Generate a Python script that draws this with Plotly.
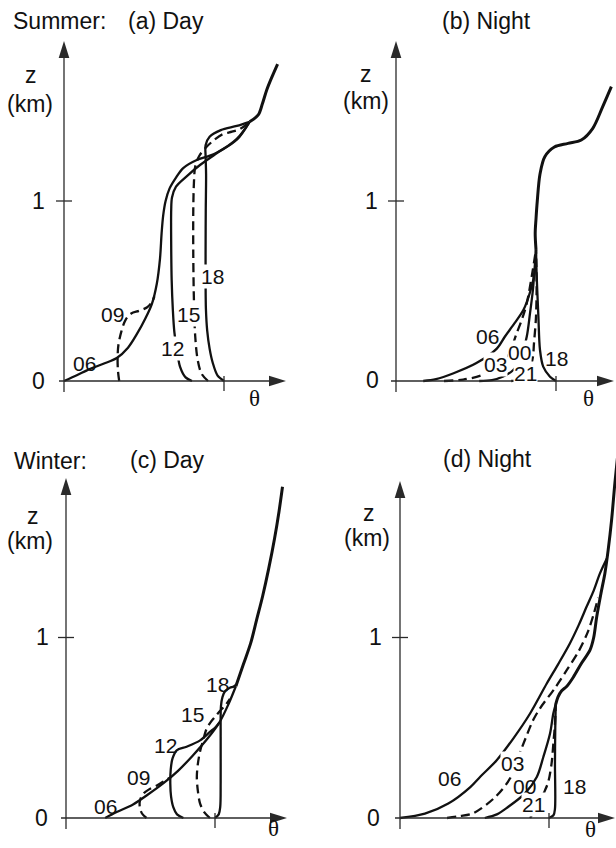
import plotly.graph_objects as go

W, H = 616, 848

# ---------------- data (theta in units of the axis tick, z in km) ----------------
# (a) Summer, day
A_TOP_TH = [1.16, 1.214, 1.24, 1.267, 1.30, 1.335]
A_TOP_Z = [1.44, 1.478, 1.54, 1.617, 1.69, 1.761]
A06_TH = [0.0, 0.08, 0.16, 0.25, 0.33, 0.40, 0.455, 0.51, 0.55, 0.58, 0.60, 0.61, 0.62, 0.635, 0.66, 0.70, 0.745, 0.83, 0.90, 0.954, 1.08, 1.16]
A06_Z = [0.0, 0.032, 0.066, 0.097, 0.128, 0.185, 0.26, 0.35, 0.43, 0.54, 0.68, 0.82, 0.92, 1.0, 1.07, 1.13, 1.183, 1.228, 1.248, 1.268, 1.345, 1.44]
A09_TH = [0.345, 0.337, 0.335, 0.34, 0.36, 0.385, 0.42, 0.47, 0.52, 0.55, 0.565]
A09_Z = [0.0, 0.06, 0.13, 0.2, 0.28, 0.34, 0.375, 0.39, 0.41, 0.44, 0.47]
A12_TH = [0.80, 0.76, 0.725, 0.71, 0.69, 0.68, 0.673, 0.67, 0.67, 0.675, 0.70, 0.77, 0.85, 0.954, 1.08, 1.16]
A12_Z = [0.0, 0.02, 0.08, 0.15, 0.27, 0.40, 0.56, 0.75, 0.95, 1.02, 1.08, 1.14, 1.20, 1.265, 1.34, 1.44]
A15_TH = [0.90, 0.86, 0.835, 0.82, 0.812, 0.808, 0.808, 0.812, 0.82, 0.845, 0.89, 0.94, 0.99, 1.05, 1.10, 1.16]
A15_Z = [0.0, 0.04, 0.12, 0.25, 0.45, 0.70, 0.95, 1.10, 1.19, 1.25, 1.30, 1.34, 1.37, 1.385, 1.40, 1.44]
A18_TH = [1.0, 0.96, 0.93, 0.91, 0.895, 0.887, 0.885, 0.885, 0.886, 0.888, 0.885, 0.885, 0.91, 0.98, 1.08, 1.16]
A18_Z = [0.0, 0.03, 0.10, 0.18, 0.28, 0.40, 0.55, 0.75, 0.95, 1.15, 1.25, 1.31, 1.357, 1.394, 1.417, 1.44]

# (b) Summer, night
B_TOP_TH = [0.875, 0.87, 0.875, 0.883, 0.90, 0.93, 0.99, 1.075, 1.158, 1.23, 1.29, 1.346]
B_TOP_Z = [0.73, 0.82, 0.90, 1.00, 1.15, 1.246, 1.30, 1.32, 1.339, 1.404, 1.52, 1.635]
B06_TH = [0.17, 0.25, 0.36, 0.50, 0.63, 0.68, 0.74, 0.796, 0.84, 0.869, 0.875]
B06_Z = [0.0, 0.01, 0.043, 0.098, 0.18, 0.246, 0.32, 0.394, 0.50, 0.617, 0.73]
B03_TH = [0.30, 0.42, 0.53, 0.62, 0.70, 0.754, 0.79, 0.817, 0.848, 0.875]
B03_Z = [0.0, 0.008, 0.03, 0.07, 0.14, 0.265, 0.35, 0.43, 0.58, 0.73]
B00_TH = [0.52, 0.60, 0.67, 0.733, 0.78, 0.817, 0.8375, 0.855, 0.8625, 0.875]
B00_Z = [0.0, 0.005, 0.025, 0.061, 0.13, 0.246, 0.376, 0.50, 0.58, 0.73]
B21_TH = [0.72, 0.78, 0.83, 0.855, 0.8625, 0.875, 0.879, 0.877, 0.875]
B21_Z = [0.0, 0.01, 0.05, 0.13, 0.21, 0.357, 0.54, 0.65, 0.73]
B18_TH = [1.0, 0.9625, 0.92, 0.90, 0.89, 0.883, 0.878, 0.875]
B18_Z = [0.0, 0.024, 0.08, 0.172, 0.357, 0.50, 0.617, 0.73]

# (c) Winter, day
C_TOP_TH = [1.14, 1.19, 1.24, 1.28, 1.32, 1.36, 1.40, 1.43, 1.453]
C_TOP_Z = [0.73, 0.85, 0.97, 1.10, 1.23, 1.38, 1.55, 1.70, 1.835]
C06_TH = [0.263, 0.34, 0.45, 0.55, 0.65, 0.75, 0.85, 0.95, 1.03, 1.09, 1.14]
C06_Z = [0.0, 0.033, 0.075, 0.13, 0.19, 0.26, 0.345, 0.44, 0.53, 0.63, 0.73]
C09_TH = [0.54, 0.51, 0.495, 0.497, 0.52, 0.56, 0.61, 0.66, 0.70]
C09_Z = [0.0, 0.025, 0.06, 0.10, 0.135, 0.16, 0.18, 0.205, 0.225]
C12_TH = [0.788, 0.745, 0.72, 0.705, 0.70, 0.703, 0.715, 0.743, 0.81, 0.90, 0.966, 1.00, 1.03]
C12_Z = [0.0, 0.02, 0.06, 0.12, 0.19, 0.27, 0.33, 0.375, 0.395, 0.43, 0.477, 0.50, 0.53]
C15_TH = [0.966, 0.93, 0.90, 0.885, 0.878, 0.885, 0.90, 0.92, 0.944, 0.97, 1.00, 1.03, 1.07, 1.10]
C15_Z = [0.0, 0.03, 0.08, 0.15, 0.227, 0.30, 0.37, 0.43, 0.495, 0.53, 0.56, 0.59, 0.625, 0.66]
C18_TH = [1.0, 1.025, 1.035, 1.038, 1.038, 1.04, 1.05, 1.07, 1.10, 1.125, 1.145]
C18_Z = [0.0, 0.02, 0.06, 0.20, 0.45, 0.62, 0.67, 0.705, 0.722, 0.728, 0.74]

# (d) Winter, night
D_TOP_TH = [1.045, 1.06, 1.085, 1.12, 1.163, 1.22, 1.275, 1.30, 1.32, 1.35, 1.375, 1.397, 1.42, 1.442, 1.46]
D_TOP_Z = [0.63, 0.67, 0.705, 0.73, 0.78, 0.86, 0.93, 1.00, 1.114, 1.25, 1.355, 1.484, 1.65, 1.854, 2.0]
D06_TH = [0.0, 0.167, 0.324, 0.47, 0.54, 0.649, 0.76, 0.873, 0.985, 1.06, 1.14, 1.20, 1.252, 1.30, 1.342, 1.39]
D06_Z = [0.0, 0.024, 0.08, 0.17, 0.23, 0.32, 0.44, 0.579, 0.745, 0.85, 0.967, 1.07, 1.17, 1.26, 1.355, 1.44]
D03_TH = [0.316, 0.40, 0.49, 0.638, 0.739, 0.819, 0.893, 0.94, 1.04, 1.12, 1.20, 1.26, 1.30, 1.33]
D03_Z = [0.0, 0.01, 0.026, 0.115, 0.22, 0.392, 0.541, 0.608, 0.72, 0.82, 0.925, 1.03, 1.13, 1.22]
D00_TH = [0.569, 0.65, 0.725, 0.837, 0.918, 0.962, 1.007, 1.029, 1.045]
D00_Z = [0.0, 0.02, 0.061, 0.135, 0.227, 0.338, 0.468, 0.579, 0.63]
D21_TH = [0.873, 0.918, 0.973, 0.995, 1.017, 1.03, 1.04, 1.045]
D21_Z = [0.0, 0.061, 0.153, 0.20, 0.30, 0.42, 0.52, 0.63]
D18_TH = [1.0, 1.03, 1.04, 1.04, 1.042, 1.045]
D18_Z = [0.0, 0.015, 0.05, 0.30, 0.50, 0.63]

# curve labels: (text, theta, z, blank-out background)
A_LABELS = [("06", 0.131, 0.10, False), ("09", 0.30, 0.372, False), ("12", 0.681, 0.183, True),
            ("15", 0.781, 0.372, True), ("18", 0.925, 0.578, True)]
B_LABELS = [("06", 0.571, 0.25, False), ("03", 0.619, 0.089, True), ("21", 0.809, 0.044, True),
            ("00", 0.769, 0.161, True), ("18", 1.003, 0.125, False)]
C_LABELS = [("06", 0.262, 0.066, False), ("09", 0.485, 0.224, False), ("12", 0.671, 0.404, False),
            ("15", 0.849, 0.576, False), ("18", 1.017, 0.737, False)]
D_LABELS = [("06", 0.329, 0.22, False), ("03", 0.758, 0.30, True), ("21", 0.895, 0.076, True),
            ("00", 0.836, 0.176, False), ("18", 1.171, 0.172, False)]

# ---------------- layout geometry (pixels) ----------------
SANS = "Liberation Sans, Arial, Helvetica, sans-serif"
SERIF = "Liberation Serif, Times New Roman, serif"
INK = "#111111"
AX = "#2a2a2a"

panels = [
    dict(s="", box=(0, 308, 0, 424), ox=64, oy=381, sx=160, sy=180, ytip=41, xtip=286,
         curves=[(A06_TH, A06_Z, None), (A09_TH, A09_Z, "dash"), (A12_TH, A12_Z, None),
                 (A15_TH, A15_Z, "dash"), (A18_TH, A18_Z, None)],
         top=(A_TOP_TH, A_TOP_Z), labels=A_LABELS,
         texts=[("z", 31, 75.5), ("(km)", 30, 104), ("1", 39, 201), ("0", 39, 381)],
         theta=(254, 399)),
    dict(s="2", box=(308, 616, 0, 424), ox=396, oy=381, sx=160, sy=180, ytip=41, xtip=614,
         curves=[(B06_TH, B06_Z, None), (B03_TH, B03_Z, "dash"), (B00_TH, B00_Z, None),
                 (B21_TH, B21_Z, "dash"), (B18_TH, B18_Z, None)],
         top=(B_TOP_TH, B_TOP_Z), labels=B_LABELS,
         texts=[("z", 366, 73.5), ("(km)", 365.5, 100.5), ("1", 371, 201), ("0", 372, 380)],
         theta=(588, 399)),
    dict(s="3", box=(0, 308, 424, 848), ox=66, oy=818, sx=149, sy=180.5, ytip=478, xtip=287,
         curves=[(C06_TH, C06_Z, None), (C09_TH, C09_Z, "dash"), (C12_TH, C12_Z, None),
                 (C15_TH, C15_Z, "dash"), (C18_TH, C18_Z, None)],
         top=(C_TOP_TH, C_TOP_Z), labels=C_LABELS,
         texts=[("z", 32.5, 516), ("(km)", 30, 541), ("1", 42, 637), ("0", 41, 818)],
         theta=(273, 828)),
    dict(s="4", box=(308, 616, 424, 848), ox=400, oy=818, sx=149, sy=180.5, ytip=481, xtip=615,
         curves=[(D06_TH, D06_Z, None), (D03_TH, D03_Z, "dash"), (D00_TH, D00_Z, None),
                 (D21_TH, D21_Z, "dash"), (D18_TH, D18_Z, None)],
         top=(D_TOP_TH, D_TOP_Z), labels=D_LABELS,
         texts=[("z", 369, 513), ("(km)", 367, 538), ("1", 375, 637), ("0", 374, 818)],
         theta=(590, 829)),
]

titles = [("Summer:", 11, 21, "left"), ("(a) Day", 165.5, 21, "center"), ("(b) Night", 486, 21, "center"),
          ("Winter:", 12, 461, "left"), ("(c) Day", 167.5, 460, "center"), ("(d) Night", 487, 459, "center")]

fig = go.Figure()
shapes = []
annotations = []


def px(x, y):
    return x / W, 1 - y / H


for p in panels:
    s = p["s"]
    x0, x1, y0, y1 = p["box"]
    ox, oy, sx, sy = p["ox"], p["oy"], p["sx"], p["sy"]
    xr = [(x0 - ox) / sx, (x1 - ox) / sx]
    yr = [(oy - y1) / sy, (oy - y0) / sy]
    fig.update_layout({
        "xaxis" + s: dict(domain=[x0 / W, x1 / W], range=xr, visible=False, fixedrange=True, anchor="y" + s),
        "yaxis" + s: dict(domain=[1 - y1 / H, 1 - y0 / H], range=yr, visible=False, fixedrange=True, anchor="x" + s),
    })
    xa, ya = "x" + s, "y" + s

    # curves
    for th, z, dash in p["curves"]:
        fig.add_trace(go.Scatter(
            x=th, y=z, mode="lines", xaxis=xa, yaxis=ya, hoverinfo="skip", showlegend=False,
            line=dict(color=INK, width=2.3, dash="9px,5px" if dash else "solid", shape="spline", smoothing=0.9)))
    tth, tz = p["top"]
    fig.add_trace(go.Scatter(
        x=tth, y=tz, mode="lines", xaxis=xa, yaxis=ya, hoverinfo="skip", showlegend=False,
        line=dict(color=INK, width=3.0, shape="spline", smoothing=0.9)))

    # axes drawn in data units
    ztip = (oy - p["ytip"]) / sy
    thtip = (p["xtip"] - ox) / sx
    hl, hw = 17, 5.3
    shapes.append(dict(type="line", xref=xa, yref=ya, x0=0, x1=0, y0=-11 / sy, y1=ztip - hl / sy + 1 / sy,
                       line=dict(color=AX, width=1.3)))
    shapes.append(dict(type="line", xref=xa, yref=ya, y0=0, y1=0, x0=-5 / sx, x1=thtip - hl / sx + 1 / sx,
                       line=dict(color=AX, width=1.3)))
    shapes.append(dict(type="path", xref=xa, yref=ya,
                       path=f"M 0,{ztip} L {hw / sx},{ztip - hl / sy} L {-hw / sx},{ztip - hl / sy} Z",
                       fillcolor=AX, line=dict(width=0)))
    shapes.append(dict(type="path", xref=xa, yref=ya,
                       path=f"M {thtip},0 L {thtip - hl / sx},{hw / sy} L {thtip - hl / sx},{-hw / sy} Z",
                       fillcolor=AX, line=dict(width=0)))
    # ticks: z = 1 km and reference theta
    shapes.append(dict(type="line", xref=xa, yref=ya, x0=-8 / sx, x1=8 / sx, y0=1, y1=1,
                       line=dict(color=AX, width=1.3)))
    shapes.append(dict(type="line", xref=xa, yref=ya, x0=1, x1=1, y0=5 / sy, y1=-10 / sy,
                       line=dict(color=AX, width=1.3)))

    # curve labels
    for text, th, z, bg in p["labels"]:
        annotations.append(dict(text=text, x=th, y=z, xref=xa, yref=ya, showarrow=False,
                                font=dict(family=SANS, size=21, color=INK),
                                bgcolor="white" if bg else "rgba(0,0,0,0)", borderpad=0,
                                xanchor="center", yanchor="middle"))
    # axis texts
    for text, tx, ty in p["texts"]:
        ax_, ay_ = px(tx, ty)
        annotations.append(dict(text=text, x=ax_, y=ay_, xref="paper", yref="paper", showarrow=False,
                                font=dict(family=SANS, size=23, color=INK), xanchor="center", yanchor="middle"))
    ax_, ay_ = px(*p["theta"])
    annotations.append(dict(text="θ", x=ax_, y=ay_, xref="paper", yref="paper", showarrow=False,
                            font=dict(family=SERIF, size=23, color=INK), xanchor="center", yanchor="middle"))

for text, tx, ty, anc in titles:
    ax_, ay_ = px(tx, ty)
    annotations.append(dict(text=text, x=ax_, y=ay_, xref="paper", yref="paper", showarrow=False,
                            font=dict(family=SANS, size=23, color=INK), xanchor=anc, yanchor="middle"))

fig.update_layout(width=W, height=H, autosize=False, margin=dict(l=0, r=0, t=0, b=0),
                  paper_bgcolor="white", plot_bgcolor="white", showlegend=False,
                  hovermode=False, shapes=shapes, annotations=annotations)

fig.write_html("out.html", config={"displayModeBar": False},
               post_script="document.body.style.margin='0';document.body.style.padding='0';")
